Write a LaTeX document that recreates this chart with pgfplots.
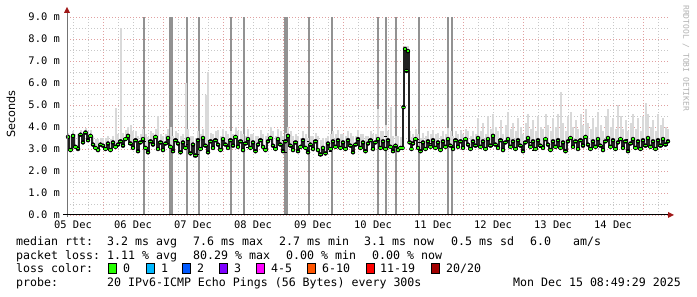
\documentclass[border=0pt]{standalone}
\usepackage{fontspec}
\setmainfont{DejaVu Sans}
\setsansfont{DejaVu Sans}
\setmonofont{DejaVu Sans Mono}
\usepackage{pgfplots}
\pgfplotsset{compat=1.18}
\usepackage{pgfplotstable}

\definecolor{lc0}{HTML}{26FF00}
\definecolor{lc1}{HTML}{00B8FF}
\definecolor{lc2}{HTML}{0059FF}
\definecolor{lc3}{HTML}{7E00FF}
\definecolor{lc4}{HTML}{FF00FF}
\definecolor{lc6}{HTML}{FF5500}
\definecolor{lc11}{HTML}{FF0000}
\definecolor{lc20}{HTML}{A10000}
\definecolor{majgrid}{HTML}{E0A0A0}
\definecolor{mingrid}{HTML}{C8C8C8}
\definecolor{smoke}{HTML}{D9D9D9}
\definecolor{spike}{HTML}{929292}
\definecolor{arrowred}{HTML}{A01818}
\definecolor{medline}{HTML}{222222}

% hourly median (m) and smoke top (t); x = hours since 05 Dec 00:00
\pgfplotstableread{
h m t
10 3.55 3.75
11 2.95 3.60
12 3.60 3.80
13 3.10 3.70
14 3.00 3.70
15 3.65 3.85
16 3.30 3.75
17 3.75 3.95
18 3.40 3.80
19 3.60 3.85
20 3.20 3.60
21 3.05 3.45
22 2.95 3.45
23 3.20 3.50
24 3.15 3.50
25 3.00 3.50
26 3.25 3.60
27 2.95 3.45
28 3.30 3.60
29 3.10 4.85
30 3.20 3.70
31 3.35 8.50
32 3.15 3.75
33 3.45 3.85
34 3.60 4.00
35 3.25 4.10
36 3.05 3.80
37 3.40 3.80
38 2.90 3.60
39 3.30 3.70
40 3.45 3.90
41 3.05 3.70
42 2.85 3.55
43 3.35 3.80
44 3.20 3.75
45 3.55 3.90
46 3.00 4.50
47 3.30 3.70
48 2.95 3.60
49 3.25 3.70
50 3.50 3.90
51 3.10 4.00
52 2.90 3.60
53 3.40 3.80
54 3.25 3.75
55 2.85 3.60
56 3.30 3.70
57 3.05 6.00
58 3.45 3.90
59 2.80 3.60
60 3.20 3.60
61 2.70 3.50
62 3.40 3.80
63 3.00 3.70
64 3.50 3.90
65 3.15 5.45
66 2.85 6.50
67 3.35 3.75
68 3.05 3.70
69 3.40 3.80
70 3.20 3.85
71 2.95 3.60
72 3.45 3.90
73 3.20 3.80
74 3.05 3.70
75 3.40 3.80
76 3.15 3.70
77 3.55 4.00
78 3.10 3.80
79 3.35 3.80
80 2.95 3.70
81 3.25 3.60
82 3.45 3.90
83 3.05 3.70
84 3.30 3.70
85 2.90 3.60
86 3.20 3.60
87 3.40 3.85
88 3.10 3.70
89 2.95 3.60
90 3.35 3.75
91 3.50 4.00
92 3.15 3.80
93 3.00 3.60
94 3.45 3.90
95 3.20 3.80
96 2.90 3.60
97 3.35 3.75
98 3.60 4.00
99 3.15 3.80
100 2.95 3.60
101 3.30 3.70
102 2.90 3.60
103 3.10 3.50
104 3.40 3.80
105 3.05 3.70
106 2.85 3.50
107 3.20 3.60
108 3.00 3.60
109 3.35 3.75
110 2.95 3.60
111 2.75 3.40
112 3.05 3.50
113 2.80 3.50
114 3.25 3.60
115 3.00 3.70
116 3.35 3.80
117 3.10 3.70
118 3.40 3.85
119 3.05 3.70
120 3.30 3.70
121 3.00 3.60
122 3.40 3.80
123 3.15 3.75
124 2.85 3.60
125 3.20 3.60
126 3.45 3.85
127 3.05 3.70
128 3.30 3.70
129 2.90 3.60
130 3.25 3.60
131 3.40 3.80
132 3.00 3.70
133 3.30 3.70
134 3.45 4.80
135 3.05 3.80
136 3.35 3.80
137 3.00 4.10
138 3.40 3.80
139 3.10 4.90
140 2.90 3.60
141 3.15 3.60
142 2.95 3.60
143 3.05 3.55
143.8 3.05 3.50
144.2 4.90 5.20
144.8 7.55 7.70
145.4 6.55 7.70
146.0 7.45 7.70
146.6 3.30 3.80
147.4 3.00 3.55
148 3.25 3.70
149 3.45 3.90
150 3.05 3.70
151 2.90 3.50
152 3.30 3.75
153 3.00 3.60
154 3.35 3.80
155 3.10 3.70
156 3.40 3.85
157 3.05 3.70
158 3.30 3.75
159 2.95 3.60
160 3.35 3.80
161 3.10 3.70
162 3.45 3.95
163 3.15 3.80
164 3.00 3.60
165 3.40 3.80
166 3.10 3.70
167 3.35 3.85
168 3.05 3.70
169 3.45 3.90
170 3.20 3.80
171 3.00 3.60
172 3.35 3.80
173 3.15 3.70
174 3.50 4.40
175 3.10 3.80
176 3.35 4.20
177 3.00 3.70
178 3.45 4.50
179 3.15 3.90
180 3.60 4.60
181 3.20 4.00
182 3.05 3.80
183 3.40 4.30
184 2.95 3.70
185 3.30 4.10
186 3.45 4.70
187 3.10 3.90
188 3.35 4.20
189 3.00 3.80
190 3.40 4.40
191 3.15 4.00
192 2.90 3.70
193 3.30 4.20
194 3.50 4.60
195 3.10 3.90
196 3.35 4.30
197 3.00 3.80
198 3.40 4.50
199 3.15 4.00
200 3.05 3.90
201 3.45 4.60
202 3.20 4.10
203 2.95 3.80
204 3.35 4.40
205 3.10 4.00
206 3.40 4.60
207 3.05 5.60
208 3.30 4.20
209 2.90 3.80
210 3.35 4.50
211 3.50 4.70
212 3.10 4.00
213 3.35 4.30
214 3.00 3.90
215 3.40 4.60
216 3.15 4.10
217 3.55 4.80
218 3.20 4.20
219 3.00 3.90
220 3.35 4.40
221 3.10 4.00
222 3.45 4.70
223 3.15 4.10
224 2.95 3.80
225 3.35 4.50
226 3.50 4.80
227 3.10 4.00
228 3.40 4.40
229 3.00 3.90
230 3.30 5.00
231 3.45 4.50
232 3.05 3.90
233 3.35 4.30
234 2.90 3.80
235 3.25 4.20
236 3.45 4.60
237 3.05 3.90
238 3.35 4.40
239 3.00 3.80
240 3.40 4.50
241 3.15 5.10
242 3.50 4.60
243 3.10 4.00
244 3.35 4.30
245 3.00 3.80
246 3.40 4.60
247 3.15 4.10
248 3.45 4.40
249 3.20 4.00
250 3.35 3.90
}\rtt

% full-height loss spikes
\pgfplotstableread{
h v
40.4 9
50.8 9
51.6 9
57.6 9
62.4 9
75.2 9
80.4 9
106.4 9
115.6 9
134.0 9
137.2 9
141.2 9
163.6 9
}\thinspikes
\pgfplotstableread{
h v
96.8 9
97.6 9
150.4 9
162.0 9
}\thickspikes

% median points with packet loss
\pgfplotstableread{
h m c
14 3.00 b2
40.5 3.36 c4
50 3.27 c6
57.6 3.20 c3
62 2.75 c11
75 3.35 c4
80 3.30 c6
81.6 3.10 b1
96 3.40 c4
97 2.86 b1
106 3.35 b1
115 2.90 c6
126 3.50 b1
137 3.60 c6
145.4 6.55 b1
150 3.45 c4
150.6 3.30 b1
155 3.27 b1
162 3.40 b2
163 3.20 c6
195 3.30 b1
196 2.95 c6
199 3.10 c4
215.6 3.25 c4
224 3.05 b1
224.4 3.30 c6
233.6 3.45 c6
248 3.40 b1
}\losspts

\begin{document}
\begin{tikzpicture}[x=1pt,y=1pt]
\useasboundingbox (0,0) rectangle (697,297);
\begin{axis}[
  at={(67pt,82pt)}, anchor=south west,
  scale only axis, width=602pt, height=198pt,
  xmin=9.6, xmax=250.4, ymin=0, ymax=9,
  clip=false,
  axis line style={draw=none},
  major tick length=0pt, minor tick length=0pt,
  xtick={12,36,...,228},
  xticklabels={05 Dec,06 Dec,07 Dec,08 Dec,09 Dec,10 Dec,11 Dec,12 Dec,13 Dec,14 Dec},
  minor xtick={12,18,30,36,42,54,60,66,78,84,90,102,108,114,126,132,138,150,156,162,174,180,186,198,204,210,222,228,234,246},
  extra x ticks={24,48,72,96,120,144,168,192,216,240},
  extra x tick labels={},
  extra x tick style={xmajorgrids=true, major grid style={majgrid, line width=0.8pt, dash pattern=on 1pt off 2pt}},
  xminorgrids=true,
  ytick={0,1,...,9},
  yticklabels={0.0 m,1.0 m,2.0 m,3.0 m,4.0 m,5.0 m,6.0 m,7.0 m,8.0 m,9.0 m},
  minor ytick={0.5,1.5,...,8.5},
  ymajorgrids=true, yminorgrids=true,
  major grid style={majgrid, line width=0.8pt, dash pattern=on 1pt off 2pt},
  minor grid style={mingrid, line width=0.8pt, dash pattern=on 1pt off 2pt},
  ticklabel style={font=\ttfamily\fontsize{10.4}{10.4}\selectfont, inner sep=0pt},
  yticklabel style={anchor=east, xshift=-7pt},
  xticklabel style={anchor=north, yshift=-6pt},
]
\addplot[ycomb, spike, line width=1.3pt] table[x=h,y=v] {\thinspikes};
\addplot[ycomb, spike, line width=2.2pt] table[x=h,y=v] {\thickspikes};
\addplot[only marks, mark=none, error bars/.cd, y dir=plus, y explicit, error mark=none,
  error bar style={smoke, line width=2pt}]
  table[x=h, y=m, y error expr=\thisrow{t}-\thisrow{m}] {\rtt};
\addplot[const plot mark mid, medline, line width=2pt] table[x=h,y=m] {\rtt};
\addplot[only marks, mark=-, mark size=1.2pt, mark options={lc0, line width=1.4pt}] table[x=h,y=m] {\rtt};
\addplot[scatter, only marks, mark=-, mark size=1.3pt, point meta=explicit symbolic,
  scatter/classes={
    b1={mark options={lc1, line width=1.6pt}},
    b2={mark options={lc2, line width=1.6pt}},
    c3={mark options={lc3, line width=1.6pt}},
    c4={mark options={lc4, line width=1.6pt}},
    c6={mark options={lc6, line width=1.6pt}},
    c11={mark options={lc11, line width=1.6pt}}}]
  table[x=h, y=m, meta=c] {\losspts};
\end{axis}
% axis lines and arrows
\draw[line width=1pt, color=black!55] (67,80) -- (67,286);
\draw[line width=1pt, black] (63,82) -- (670,82);
\fill[arrowred] (64,284) -- (70,284) -- (67,290) -- cycle;
\fill[arrowred] (668,85) -- (668,79) -- (674,82) -- cycle;
% y label
\node[rotate=90, font=\sffamily\fontsize{11.2}{11.2}\selectfont] at (11,183) {Seconds};
% watermark
\node[rotate=-90, anchor=west, inner sep=0pt, text=black!30, font=\ttfamily\fontsize{8}{8}\selectfont] at (686,292) {RRDTOOL / TOBI OETIKER};
% legend text
\begin{scope}[every node/.style={anchor=base west, inner sep=0pt, font=\ttfamily\fontsize{11.6}{11.6}\selectfont}]
\node at (16,51) {median rtt:};
\node at (107,51) {3.2 ms avg};
\node at (193,51) {7.6 ms max};
\node at (279,51) {2.7 ms min};
\node at (364,51) {3.1 ms now};
\node at (451,51) {0.5 ms sd};
\node at (530,51) {6.0};
\node at (573,51) {am/s};
\node at (16,37) {packet loss:};
\node at (107,37) {1.11 \% avg};
\node at (193,37) {80.29 \% max};
\node at (286,37) {0.00 \% min};
\node at (372,37) {0.00 \% now};
\node at (16,24) {loss color:};
\node at (123,24) {0};
\node at (161,24) {1};
\node at (197,24) {2};
\node at (234,24) {3};
\node at (271,24) {4-5};
\node at (322,24) {6-10};
\node at (380,24) {11-19};
\node at (446,24) {20/20};
\node at (16,10) {probe:};
\node at (107,10) {20 IPv6-ICMP Echo Pings (56 Bytes) every 300s};
\node[anchor=base east] at (681,10) {Mon Dec 15 08:49:29 2025};
\end{scope}
\foreach \xx/\cc in {108/lc0,146/lc1,182/lc2,219/lc3,256/lc4,307/lc6,366/lc11,431/lc20}{
  \filldraw[fill=\cc, draw=black, line width=0.8pt] (\xx,23.5) rectangle ++(8,10);
}
\end{tikzpicture}
\end{document}
